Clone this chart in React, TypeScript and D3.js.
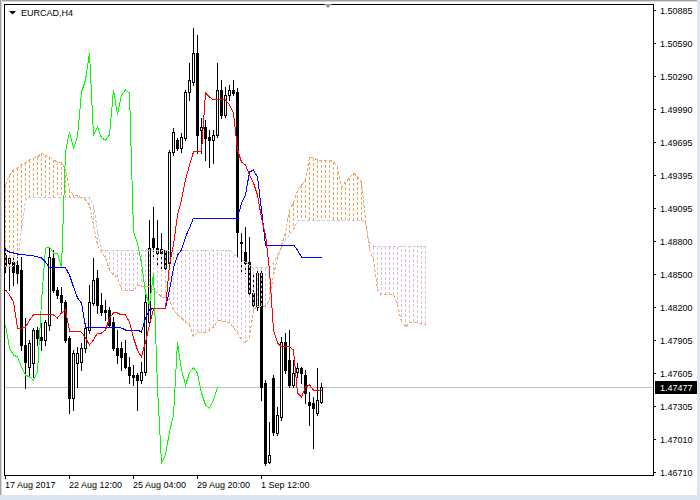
import React from 'react';
import * as d3 from 'd3';

// EURCAD H4 candles (prices)
const opens = [1.48671, 1.48599, 1.48608, 1.48581, 1.48535, 1.47858, 1.47659, 1.47695, 1.47993, 1.4793,
  1.47903, 1.48038, 1.48644, 1.48355, 1.4831, 1.48246, 1.47921, 1.47379, 1.47695, 1.47704,
  1.47831, 1.47993, 1.48237, 1.48463, 1.48219, 1.48174, 1.48174, 1.48065, 1.47831, 1.47831,
  1.47785, 1.47659, 1.47587, 1.47587, 1.47541, 1.47614, 1.48065, 1.48825, 1.48734, 1.48725,
  1.48716, 1.48599, 1.49602, 1.4971, 1.49638, 1.49729, 1.50144, 1.50234, 1.50497, 1.49801,
  1.49828, 1.49738, 1.4971, 1.49756, 1.50162, 1.49936, 1.50117, 1.50162, 1.50144, 1.48788,
  1.48698, 1.48608, 1.48328, 1.48201, 1.48508, 1.47514, 1.468, 1.4756, 1.47062, 1.47207,
  1.47885, 1.47722, 1.47496, 1.47614, 1.4765, 1.47587, 1.47342, 1.47333, 1.47243, 1.47342];
const highs = [1.48734, 1.48671, 1.48644, 1.48653, 1.48653, 1.48102, 1.47903, 1.48011, 1.4802, 1.48056,
  1.48083, 1.48734, 1.48716, 1.48382, 1.48382, 1.48264, 1.47939, 1.47812, 1.4784, 1.47876,
  1.48056, 1.484, 1.48644, 1.48535, 1.48328, 1.48264, 1.48201, 1.48111, 1.47993, 1.47885,
  1.47903, 1.47749, 1.47677, 1.47605, 1.47704, 1.4831, 1.48987, 1.49105, 1.48987, 1.4887,
  1.48716, 1.4962, 1.49819, 1.49729, 1.49774, 1.50162, 1.50406, 1.50723, 1.50659, 1.49909,
  1.49891, 1.49801, 1.49801, 1.50406, 1.50252, 1.50189, 1.50207, 1.50252, 1.5018, 1.4887,
  1.48924, 1.48834, 1.48517, 1.48535, 1.48535, 1.47541, 1.47162, 1.47587, 1.47297, 1.4793,
  1.47966, 1.47993, 1.47722, 1.47695, 1.47659, 1.47632, 1.47433, 1.47388, 1.4765, 1.47514];
const lows = [1.48517, 1.48355, 1.484, 1.48418, 1.47812, 1.47469, 1.47587, 1.47569, 1.47858, 1.47812,
  1.47858, 1.47993, 1.48337, 1.48283, 1.48156, 1.47885, 1.47243, 1.4727, 1.47478, 1.47632,
  1.47794, 1.47966, 1.48219, 1.48147, 1.48129, 1.48083, 1.4802, 1.47812, 1.47695, 1.47632,
  1.4765, 1.47514, 1.47496, 1.4727, 1.47514, 1.47587, 1.48038, 1.48653, 1.48563, 1.48554,
  1.48535, 1.48581, 1.49575, 1.4962, 1.49602, 1.4971, 1.50072, 1.50207, 1.49593, 1.49593,
  1.49529, 1.49466, 1.49502, 1.49738, 1.49909, 1.49918, 1.50072, 1.50117, 1.48653, 1.48517,
  1.48508, 1.4831, 1.48174, 1.48174, 1.4736, 1.46773, 1.46791, 1.47044, 1.47044, 1.4718,
  1.47605, 1.47478, 1.47478, 1.47569, 1.47514, 1.47333, 1.47135, 1.46927, 1.47225, 1.47333];
const closes = [1.48572, 1.48644, 1.48517, 1.48508, 1.47858, 1.47704, 1.47876, 1.47993, 1.47921, 1.47903,
  1.48065, 1.48653, 1.48355, 1.4831, 1.48246, 1.47903, 1.47379, 1.47785, 1.47785, 1.47831,
  1.48011, 1.48246, 1.48445, 1.48219, 1.48156, 1.48156, 1.48038, 1.47831, 1.47767, 1.47749,
  1.47659, 1.47587, 1.47569, 1.47541, 1.47614, 1.48246, 1.48734, 1.48743, 1.48689, 1.48689,
  1.48554, 1.49602, 1.49783, 1.49638, 1.49738, 1.50144, 1.50252, 1.50497, 1.49756, 1.49828,
  1.49729, 1.4971, 1.49756, 1.50162, 1.49936, 1.50117, 1.50162, 1.50135, 1.48879, 1.48779,
  1.48599, 1.48328, 1.48219, 1.48508, 1.47478, 1.46791, 1.46864, 1.47071, 1.47225, 1.47885,
  1.47632, 1.47496, 1.47605, 1.4765, 1.47605, 1.47424, 1.47315, 1.47288, 1.4736, 1.47477];

// Ichimoku lines
const tenkan = [1.48355, 1.4831, 1.48246, 1.48011, 1.48011, 1.4802, 1.48083, 1.48129, 1.48129, 1.48129,
  1.48129, 1.48129, 1.48129, 1.48102, 1.48147, 1.48174, 1.47984, 1.47984, 1.47984, 1.47975,
  1.47921, 1.47858, 1.47903, 1.47966, 1.47966, 1.47993, 1.48102, 1.48147, 1.48147, 1.48129,
  1.48129, 1.48065, 1.47921, 1.47812, 1.47749, 1.47885, 1.48038, 1.48183, 1.48192, 1.48192,
  1.48192, 1.48581, 1.48761, 1.49033, 1.49168, 1.49349, 1.49484, 1.49602, 1.49602, 1.49602,
  1.50135, 1.50099, 1.50072, 1.50072, 1.50072, 1.50072, 1.50027, 1.49954, 1.4962, 1.49511,
  1.49484, 1.49394, 1.49322, 1.49213, 1.49005, 1.48852, 1.48535, 1.47993, 1.47876, 1.4784,
  1.4784, 1.4784, 1.47812, 1.47424, 1.47388, 1.47478, 1.47496, 1.47451, 1.47451, 1.47451];
const kijun = [1.48716, 1.48698, 1.48689, 1.4868, 1.48671, 1.48671, 1.48662, 1.48662, 1.48653, 1.48644,
  1.48608, 1.48554, 1.48554, 1.48554, 1.48554, 1.48554, 1.4849, 1.48382, 1.48283, 1.48237,
  1.4802, 1.4802, 1.4802, 1.4802, 1.4802, 1.4802, 1.4802, 1.4802, 1.4802, 1.48011,
  1.47993, 1.47993, 1.47993, 1.47993, 1.47975, 1.48102, 1.48174, 1.48192, 1.48192, 1.48192,
  1.48192, 1.48355, 1.48554, 1.48671, 1.48716, 1.48833, 1.48915, 1.49005, 1.49005, 1.49005,
  1.49005, 1.49005, 1.49005, 1.49005, 1.49005, 1.49005, 1.49005, 1.49005, 1.49005, 1.49141,
  1.49213, 1.49421, 1.49439, 1.49376, 1.49078, 1.48761, 1.48761, 1.48761, 1.48761, 1.48761,
  1.48761, 1.48761, 1.48761, 1.48716, 1.48653, 1.48644, 1.48644, 1.48644, 1.48644, 1.48644];
// cloud spans, 26 bars ahead of price
const spanA = [1.49303, 1.49394, 1.49439, 1.49457, 1.49484, 1.49502, 1.49529, 1.49547, 1.49556, 1.49592,
  1.49574, 1.49556, 1.49529, 1.49511, 1.49511, 1.49439, 1.49258, 1.49213, 1.49213, 1.49186,
  1.49168, 1.49123, 1.48942, 1.48761, 1.48698, 1.48644, 1.48535, 1.4849, 1.48472, 1.48355,
  1.48346, 1.48346, 1.48346, 1.484, 1.48382, 1.48382, 1.48382, 1.48355, 1.48328, 1.48292,
  1.48283, 1.48264, 1.48174, 1.48129, 1.48102, 1.48065, 1.48038, 1.4793, 1.47975, 1.47975,
  1.47975, 1.47993, 1.4802, 1.48083, 1.48074, 1.48065, 1.48065, 1.48011, 1.47966, 1.47903,
  1.47876, 1.47921, 1.48174, 1.4821, 1.4821, 1.4821, 1.48264, 1.4849, 1.48644, 1.48761,
  1.4887, 1.49078, 1.49141, 1.49258, 1.49303, 1.49349, 1.49556, 1.49547, 1.49529, 1.49529,
  1.49529, 1.49529, 1.49511, 1.49466, 1.49285, 1.49331, 1.49367, 1.49412, 1.49376, 1.49331,
  1.48987, 1.48716, 1.48626, 1.48355, 1.4831, 1.4831, 1.4831, 1.4831, 1.48219, 1.48065,
  1.4802, 1.48056, 1.48065, 1.48056, 1.48047, 1.48047];
const spanB = [1.48563, 1.48563, 1.48572, 1.48608, 1.48897, 1.49168, 1.49195, 1.49195, 1.49195, 1.49195,
  1.49195, 1.49195, 1.49195, 1.49195, 1.49195, 1.49195, 1.49195, 1.49195, 1.49195, 1.49195,
  1.49195, 1.49195, 1.49123, 1.48897, 1.48716, 1.48716, 1.48716, 1.48716, 1.48716, 1.48716,
  1.48716, 1.48716, 1.48716, 1.48716, 1.48716, 1.48716, 1.48716, 1.48716, 1.48716, 1.48716,
  1.48716, 1.48716, 1.48716, 1.48716, 1.48716, 1.48716, 1.48716, 1.48716, 1.48716, 1.48716,
  1.48716, 1.48716, 1.48716, 1.48716, 1.48716, 1.48716, 1.48716, 1.48689, 1.48653, 1.48626,
  1.48608, 1.48581, 1.48554, 1.48554, 1.48554, 1.48554, 1.48554, 1.48599, 1.48671, 1.48734,
  1.48806, 1.48852, 1.48897, 1.48987, 1.48987, 1.48987, 1.48987, 1.48987, 1.48987, 1.48987,
  1.48987, 1.48987, 1.48987, 1.48987, 1.48987, 1.48987, 1.48987, 1.48987, 1.48987, 1.48987,
  1.48969, 1.48779, 1.48752, 1.48752, 1.48752, 1.48752, 1.48752, 1.48752, 1.48752, 1.48752,
  1.48752, 1.48752, 1.48752, 1.48752, 1.48752, 1.48752];

const priceTicks = ['1.50885', '1.50590', '1.50290', '1.49990', '1.49695', '1.49395', '1.49095', '1.48800',
  '1.48500', '1.48200', '1.47905', '1.47605', '1.47305', '1.47010', '1.46710'];
const timeLabels = ['17 Aug 2017', '22 Aug 12:00', '25 Aug 04:00', '29 Aug 20:00', '1 Sep 12:00'];
const timeLabelBars = [0, 16, 32, 48, 64];
const bid = 1.47477;
const symbol = 'EURCAD,H4';
const chikouShift = 26;

const FONT = '"Liberation Sans", Arial, sans-serif';

export default function App() {
  const plot = { left: 4, top: 4, right: 653, bottom: 475 };
  const x = d3.scaleLinear().domain([0, 105]).range([5, 425]);
  const y = d3.scaleLinear().domain([1.4671, 1.50885]).range([472, 10]);
  const px = (i: number) => Math.round(x(i)) + 0.5;

  const line = d3.line<number>().x((_, i) => px(i)).y(v => y(v));
  const chikou = closes.slice(chikouShift);
  const yBid = Math.round(y(bid)) + 0.5;

  return (
    <svg width={700} height={500} style={{ position: 'fixed', left: 0, top: 0, background: '#fff' }}
      fontFamily={FONT}>
      <defs>
        <clipPath id="plot">
          <rect x={plot.left + 1} y={plot.top + 1} width={plot.right - plot.left - 1} height={plot.bottom - plot.top - 1} />
        </clipPath>
      </defs>
      {/* window frame */}
      <rect x={0} y={0} width={700} height={1} fill="#a0a0a0" />
      <rect x={0} y={1} width={700} height={1} fill="#d8d8d8" />
      <rect x={0} y={0} width={1} height={500} fill="#a0a0a0" />
      <rect x={1} y={0} width={1} height={500} fill="#d8d8d8" />
      <rect x={697} y={0} width={3} height={500} fill="#dbe4ef" />
      <rect x={0} y={495} width={700} height={5} fill="#dbe4ef" />

      <g clipPath="url(#plot)" shapeRendering="crispEdges">
        <line x1={plot.left} x2={plot.right} y1={yBid} y2={yBid} stroke="#c0c0c0" />
        {closes.map((c, i) => {
          const o = opens[i];
          const xc = Math.round(x(i));
          const top = Math.round(y(Math.max(o, c)));
          const bot = Math.round(y(Math.min(o, c)));
          return (
            <g key={i}>
              <line x1={xc + 0.5} x2={xc + 0.5} y1={Math.round(y(highs[i]))} y2={Math.round(y(lows[i])) + 1} stroke="#000" />
              {c >= o
                ? <rect x={xc - 0.5} y={top + 0.5} width={2} height={Math.max(bot - top, 1)} fill="#fff" stroke="#000" />
                : <rect x={xc - 1} y={top} width={3} height={Math.max(bot - top + 1, 1)} fill="#000" />}
            </g>
          );
        })}
        {spanA.map((a, i) => (
          <line key={'h' + i} x1={px(i)} x2={px(i)} y1={y(a)} y2={y(spanB[i])}
            stroke={a >= spanB[i] ? '#f4a460' : '#d8bfd8'} strokeDasharray="3,2" />
        ))}
        <path d={line(spanB) ?? ''} fill="none" stroke="#d8bfd8" strokeDasharray="3,2" />
        <path d={line(spanA) ?? ''} fill="none" stroke="#f4a460" strokeDasharray="3,2" />
        <path d={line(chikou) ?? ''} fill="none" stroke="#00ff00" />
        <path d={line(kijun) ?? ''} fill="none" stroke="#0000ff" />
        <path d={line(tenkan) ?? ''} fill="none" stroke="#ff0000" />
      </g>

      {/* plot frame */}
      <rect x={plot.left + 0.5} y={plot.top + 0.5} width={plot.right - plot.left} height={plot.bottom - plot.top}
        fill="none" stroke="#000" shapeRendering="crispEdges" />

      {/* price axis */}
      {priceTicks.map(t => {
        const ty = Math.round(y(+t)) + 0.5;
        return (
          <g key={t}>
            <line x1={plot.right} x2={plot.right + 3} y1={ty} y2={ty} stroke="#000" shapeRendering="crispEdges" />
            <text x={660} y={ty} dy="0.35em" fontSize={9} fill="#000">{t}</text>
          </g>
        );
      })}
      <rect x={655} y={yBid - 6.5} width={42} height={13} fill="#000" />
      <text x={660} y={yBid} dy="0.35em" fontSize={9} fill="#fff">{bid.toFixed(5)}</text>

      {/* time axis */}
      {timeLabelBars.map((b, k) => (
        <g key={b}>
          <line x1={px(b)} x2={px(b)} y1={plot.bottom} y2={plot.bottom + 4} stroke="#000" shapeRendering="crispEdges" />
          <text x={Math.round(x(b))} y={488} fontSize={9} fill="#000">{timeLabels[k]}</text>
        </g>
      ))}

      {/* symbol caption */}
      <path d="M9,11 L16,11 L12.5,14.5 Z" fill="#000" />
      <text x={21} y={16} fontSize={9} fill="#000">{symbol}</text>
      <path d="M324,4 L332,4 L328,8 Z" fill="#9a9a9a" />
    </svg>
  );
}
